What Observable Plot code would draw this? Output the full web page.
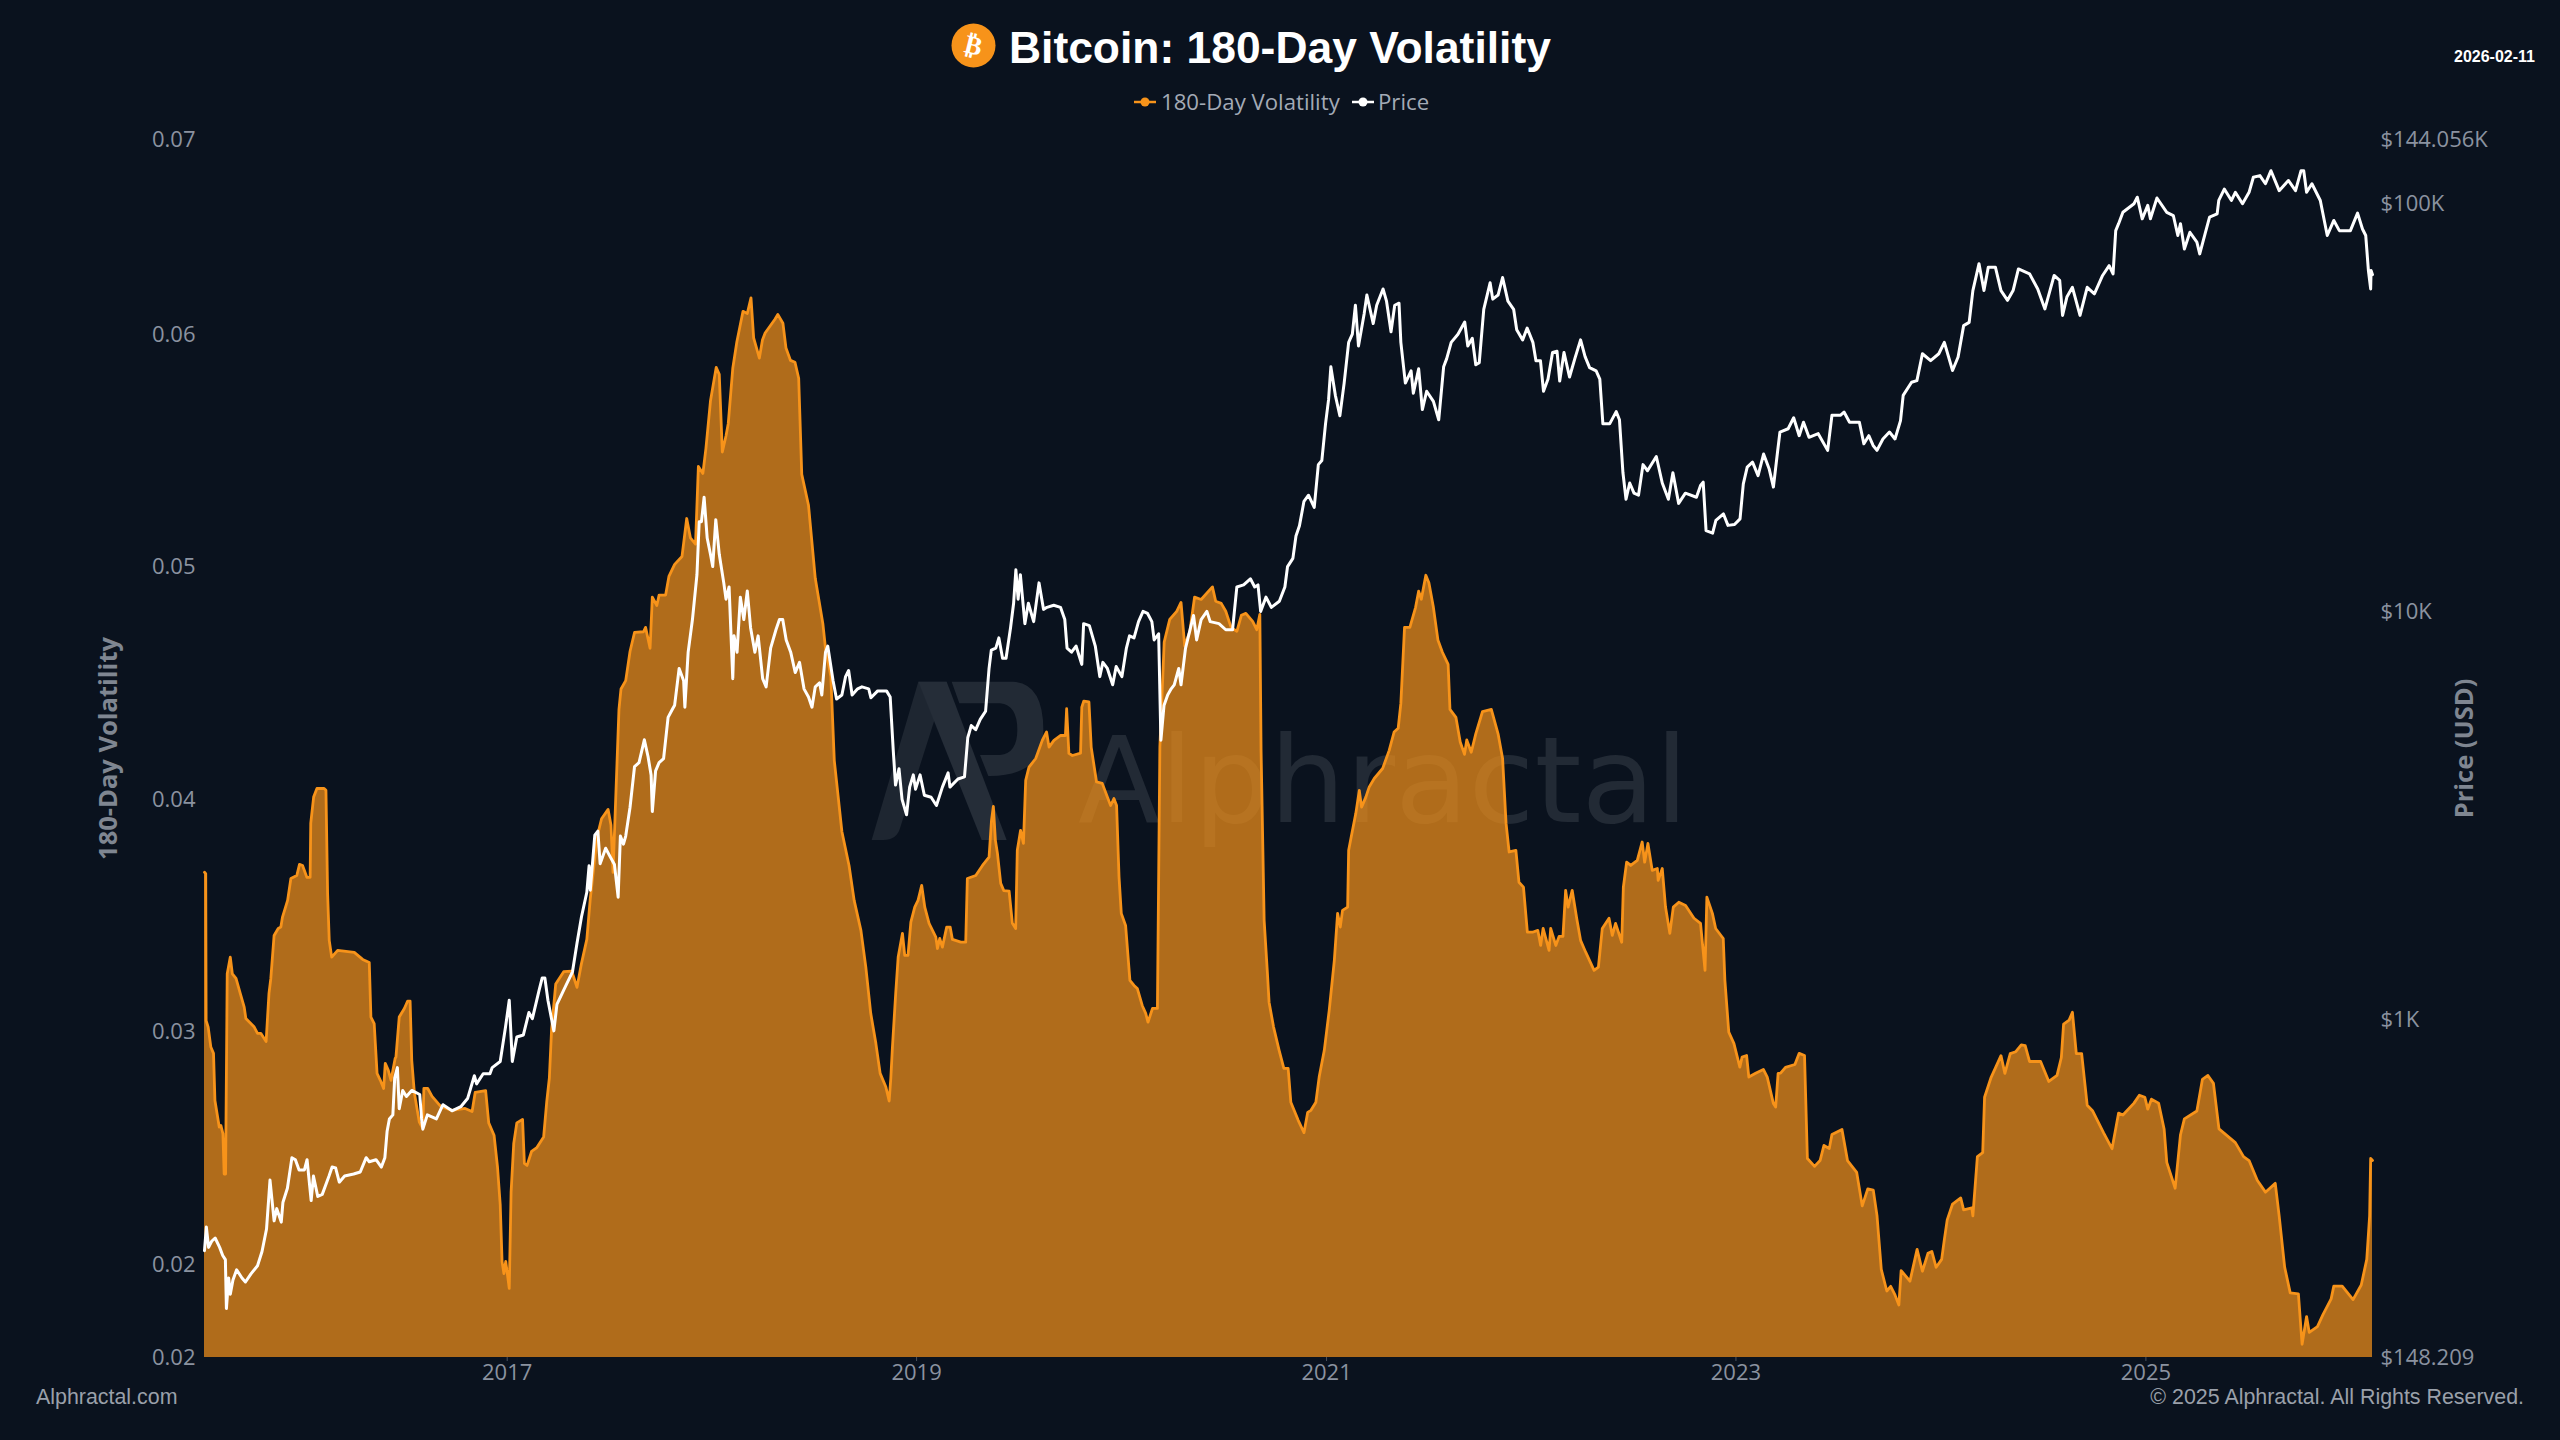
<!DOCTYPE html>
<html><head><meta charset="utf-8">
<script src="https://cdn.jsdelivr.net/npm/d3@7"></script>
<script src="https://cdn.jsdelivr.net/npm/@observablehq/plot@0.6"></script>
<style>
html,body{margin:0;padding:0;background:#0a121e;width:2560px;height:1440px;overflow:hidden}
.abs{position:absolute;white-space:nowrap;line-height:1}
#chart{position:absolute;left:0;top:120px;width:2560px;height:1265px}
#chart svg{position:absolute;left:0;top:0;background:transparent}
</style></head><body>
<div id="watermark">
<svg class="abs" style="left:840px;top:640px" width="280" height="240" viewBox="0 0 840 720">
<path fill="#1e2631" d="M95 600 L235 125 L320 125 L180 565 Q170 600 130 600 Z"/>
<path fill="#252d38" d="M235 125 L320 125 L500 600 L425 600 Z"/>
<path fill="#222a35" d="M335 125 H520 Q610 130 610 270 Q610 410 445 408 L420 345 H480 Q532 340 532 270 Q532 195 480 190 H358 Z"/>
</svg>
<div class="abs" style="left:1078px;top:711px;font:400 120px 'DejaVu Sans';color:#222a35">Alphractal</div>
</div>
<div id="chart"></div>
<svg class="abs" style="left:951px;top:23px" width="45" height="45" viewBox="0 0 45 45">
<circle cx="22.5" cy="22.5" r="22" fill="#f7931a"/>
<text x="22.5" y="31" text-anchor="middle" font-family="'DejaVu Sans'" font-weight="700" font-size="26" fill="#fff" transform="rotate(14 22.5 22.5)">₿</text>
</svg>
<div class="abs" id="title" style="left:1009px;top:22.5px;font:700 44.4px 'Liberation Sans';color:#fff">Bitcoin: 180-Day Volatility</div>
<svg class="abs" style="left:1133px;top:94px" width="24" height="16"><line x1="1" x2="23" y1="8" y2="8" stroke="#f7931a" stroke-width="2.5"/><circle cx="12" cy="8" r="4.5" fill="#f7931a"/></svg>
<div class="abs" style="left:1161px;top:86px;font:400 22.2px 'Open Sans';color:#a3aab6">180-Day Volatility</div>
<svg class="abs" style="left:1351px;top:94px" width="24" height="16"><line x1="1" x2="23" y1="8" y2="8" stroke="#fff" stroke-width="2.5"/><circle cx="12" cy="8" r="4.5" fill="#fff"/></svg>
<div class="abs" style="left:1378px;top:86px;font:400 22.2px 'Open Sans';color:#a3aab6">Price</div>
<div class="abs" style="left:2454px;top:48px;font:700 16px 'Liberation Sans';color:#fff">2026-02-11</div>
<div class="abs" style="left:36px;top:1385px;font:400 21.4px 'Liberation Sans';color:#9aa0aa">Alphractal.com</div>
<div class="abs" style="right:36px;top:1385px;font:400 21.4px 'Liberation Sans';color:#9aa0aa">© 2025 Alphractal. All Rights Reserved.</div>
<script>
const yearTicks = [2017, 2019, 2021, 2023, 2025];
const volTicks = [0.01602, 0.02, 0.03, 0.04, 0.05, 0.06, 0.0684];
const priceTicks = [148.209, 1000, 10000, 100000, 144056];
const timeSpan = [2015.524, 2026.107];

// [decimal year, 180-day volatility]
const volReadings = [
[2015.524,.03689],[2015.53,.03683],[2015.532,.0305],[2015.542,.03023],[2015.555,.02937],[2015.568,.0291],[2015.575,.02707],[2015.596,.02593],[2015.604,.0260],[2015.614,.02565],[2015.62,.02391],[2015.627,.02391],[2015.635,.03252],[2015.65,.03324],[2015.66,.03252],[2015.678,.03232],[2015.699,.03167],[2015.718,.03109],[2015.726,.0306],[2015.767,.03023],[2015.783,.02996],[2015.799,.02996],[2015.825,.02961],[2015.839,.03168],[2015.848,.03232],[2015.864,.03417],[2015.884,.03447],[2015.897,.03453],[2015.905,.03496],[2015.93,.03568],[2015.946,.03662],[2015.975,.03675],[2015.988,.03723],[2016.003,.03718],[2016.024,.03667],[2016.04,.03667],[2016.043,.0390],[2016.057,.04012],[2016.073,.04049],[2016.108,.04049],[2016.117,.04041],[2016.125,.03598],[2016.133,.03396],[2016.145,.03324],[2016.174,.03353],[2016.255,.03344],[2016.296,.03314],[2016.328,.03301],[2016.336,.03066],[2016.352,.03038],[2016.366,.02824],[2016.382,.02794],[2016.398,.02759],[2016.406,.02867],[2016.421,.02837],[2016.434,.02794],[2016.454,.02888],[2016.458,.02894],[2016.474,.03066],[2016.499,.03103],[2016.515,.03135],[2016.527,.03135],[2016.535,.0288],[2016.548,.02738],[2016.572,.02614],[2016.589,.02587],[2016.594,.02759],[2016.613,.02759],[2016.634,.02725],[2016.676,.02682],[2016.731,.02665],[2016.795,.02673],[2016.829,.0266],[2016.844,.02742],[2016.895,.0275],[2016.91,.02611],[2016.936,.02558],[2016.953,.02419],[2016.966,.0226],[2016.975,.02015],[2016.984,.01963],[2016.993,.02015],[2017.01,.01899],[2017.019,.02312],[2017.032,.02523],[2017.047,.02611],[2017.075,.02626],[2017.084,.02437],[2017.097,.02428],[2017.119,.02488],[2017.145,.02505],[2017.178,.0255],[2017.193,.027],[2017.206,.02804],[2017.217,.03015],[2017.237,.03208],[2017.276,.03261],[2017.315,.03264],[2017.341,.03194],[2017.363,.03297],[2017.389,.034],[2017.406,.03576],[2017.439,.0384],[2017.461,.03919],[2017.493,.03959],[2017.507,.03892],[2017.517,.03688],[2017.546,.04389],[2017.556,.04477],[2017.579,.04513],[2017.6,.04638],[2017.622,.0472],[2017.666,.04723],[2017.676,.04742],[2017.698,.04652],[2017.709,.04872],[2017.731,.04836],[2017.742,.04881],[2017.774,.04881],[2017.79,.04961],[2017.818,.05013],[2017.854,.05047],[2017.877,.0521],[2017.895,.05127],[2017.92,.051],[2017.934,.05434],[2017.956,.05404],[2017.971,.05513],[2017.993,.05715],[2018.021,.0586],[2018.036,.0583],[2018.051,.05496],[2018.069,.05566],[2018.08,.05619],[2018.102,.05856],[2018.122,.0597],[2018.152,.06101],[2018.173,.06092],[2018.191,.06159],[2018.204,.05987],[2018.232,.059],[2018.247,.05978],[2018.26,.06008],[2018.308,.06067],[2018.322,.06088],[2018.347,.0605],[2018.362,.05943],[2018.384,.0589],[2018.406,.05882],[2018.424,.05813],[2018.439,.054],[2018.472,.05267],[2018.505,.04953],[2018.542,.04759],[2018.555,.04652],[2018.581,.04532],[2018.598,.04169],[2018.614,.04038],[2018.635,.03864],[2018.67,.03718],[2018.695,.03568],[2018.728,.03439],[2018.752,.03281],[2018.776,.03082],[2018.801,.02953],[2018.822,.02824],[2018.85,.02765],[2018.866,.02705],[2018.874,.02802],[2018.882,.02937],[2018.898,.03168],[2018.91,.03324],[2018.931,.03426],[2018.942,.03331],[2018.958,.03331],[2018.972,.03474],[2018.991,.03539],[2019.007,.03568],[2019.025,.03632],[2019.04,.03539],[2019.061,.03469],[2019.094,.0341],[2019.102,.03361],[2019.113,.03404],[2019.126,.03367],[2019.147,.03453],[2019.164,.03453],[2019.175,.034],[2019.216,.03388],[2019.24,.03388],[2019.248,.03662],[2019.289,.03675],[2019.322,.03718],[2019.354,.03754],[2019.366,.03912],[2019.375,.03972],[2019.385,.03826],[2019.395,.0377],[2019.411,.03641],[2019.426,.0361],[2019.452,.03608],[2019.468,.03469],[2019.484,.03447],[2019.492,.03783],[2019.508,.03869],[2019.522,.03813],[2019.533,.04084],[2019.549,.04141],[2019.582,.04178],[2019.614,.04256],[2019.635,.04292],[2019.647,.04227],[2019.671,.04256],[2019.704,.04277],[2019.727,.04277],[2019.733,.04392],[2019.744,.042],[2019.761,.04191],[2019.801,.04201],[2019.807,.04399],[2019.817,.04425],[2019.842,.04421],[2019.853,.04227],[2019.879,.04077],[2019.907,.04071],[2019.932,.04012],[2019.948,.03976],[2019.964,.04006],[2019.977,.03976],[2019.989,.03668],[2020.0,.03512],[2020.021,.0346],[2020.042,.03224],[2020.062,.03202],[2020.078,.03189],[2020.102,.03116],[2020.119,.03082],[2020.13,.03044],[2020.152,.03103],[2020.176,.03103],[2020.188,.04227],[2020.209,.04679],[2020.236,.04776],[2020.27,.04811],[2020.291,.04849],[2020.309,.04662],[2020.334,.04725],[2020.357,.04872],[2020.389,.04862],[2020.444,.04916],[2020.46,.04854],[2020.487,.04845],[2020.509,.04811],[2020.535,.04742],[2020.563,.04725],[2020.585,.04794],[2020.607,.04802],[2020.64,.04768],[2020.66,.04732],[2020.675,.04798],[2020.681,.04213],[2020.696,.03482],[2020.712,.03254],[2020.72,.0313],[2020.742,.03023],[2020.769,.02923],[2020.792,.02845],[2020.813,.02845],[2020.826,.027],[2020.862,.02622],[2020.89,.02569],[2020.908,.02656],[2020.924,.02665],[2020.948,.027],[2020.964,.02808],[2020.989,.02923],[2021.013,.03095],[2021.038,.0331],[2021.054,.03512],[2021.067,.03453],[2021.078,.03525],[2021.103,.03539],[2021.108,.03783],[2021.119,.03834],[2021.143,.03942],[2021.16,.04041],[2021.171,.03969],[2021.192,.04012],[2021.208,.04055],[2021.233,.04092],[2021.274,.04135],[2021.306,.04213],[2021.33,.04292],[2021.35,.04308],[2021.363,.04415],[2021.381,.04742],[2021.407,.04742],[2021.435,.04828],[2021.45,.04898],[2021.463,.04863],[2021.485,.04966],[2021.5,.04934],[2021.522,.04828],[2021.544,.04688],[2021.566,.04635],[2021.594,.04583],[2021.603,.04389],[2021.632,.04355],[2021.653,.04249],[2021.674,.04196],[2021.685,.04258],[2021.707,.04205],[2021.729,.04284],[2021.762,.0438],[2021.805,.04389],[2021.838,.04284],[2021.86,.04178],[2021.877,.03899],[2021.892,.03776],[2021.925,.03783],[2021.94,.03646],[2021.962,.03625],[2021.981,.03431],[2022.006,.03431],[2022.032,.03439],[2022.046,.03374],[2022.058,.03447],[2022.087,.03353],[2022.095,.03447],[2022.12,.03374],[2022.136,.03413],[2022.155,.03413],[2022.168,.03611],[2022.18,.03539],[2022.2,.03611],[2022.222,.03491],[2022.241,.03396],[2022.266,.03345],[2022.307,.03267],[2022.328,.03281],[2022.347,.03447],[2022.38,.03491],[2022.396,.03417],[2022.412,.03469],[2022.442,.03388],[2022.45,.03625],[2022.466,.03732],[2022.486,.03718],[2022.518,.0374],[2022.542,.03819],[2022.554,.03732],[2022.57,.03813],[2022.591,.03697],[2022.616,.03705],[2022.62,.03654],[2022.64,.03705],[2022.656,.03539],[2022.677,.03426],[2022.694,.03539],[2022.721,.0356],[2022.754,.03546],[2022.795,.03491],[2022.827,.03469],[2022.849,.03267],[2022.858,.03582],[2022.885,.03512],[2022.901,.03447],[2022.938,.03404],[2022.946,.03224],[2022.965,.03001],[2022.99,.02953],[2023.019,.02851],[2023.03,.02894],[2023.052,.02901],[2023.063,.02808],[2023.096,.02824],[2023.134,.02841],[2023.153,.02808],[2023.183,.02694],[2023.194,.02679],[2023.206,.02824],[2023.218,.02825],[2023.242,.0285],[2023.288,.02862],[2023.309,.0291],[2023.335,.02901],[2023.349,.02458],[2023.384,.02424],[2023.411,.02449],[2023.43,.02514],[2023.456,.02501],[2023.469,.02561],[2023.518,.02583],[2023.545,.02449],[2023.59,.02398],[2023.617,.02254],[2023.644,.02327],[2023.671,.02322],[2023.689,.02213],[2023.71,.01981],[2023.737,.01888],[2023.756,.01908],[2023.777,.01871],[2023.796,.01828],[2023.807,.01976],[2023.85,.0193],[2023.885,.02067],[2023.911,.01973],[2023.938,.0205],[2023.957,.02058],[2023.978,.0199],[2024.005,.02024],[2024.018,.02109],[2024.032,.02194],[2024.058,.02262],[2024.098,.02288],[2024.112,.02237],[2024.152,.02245],[2024.157,.02211],[2024.179,.02466],[2024.205,.02483],[2024.214,.02721],[2024.246,.02807],[2024.294,.029],[2024.313,.02824],[2024.339,.02909],[2024.366,.02917],[2024.393,.02946],[2024.412,.02943],[2024.433,.02875],[2024.487,.02875],[2024.527,.02789],[2024.567,.02815],[2024.588,.02892],[2024.599,.03036],[2024.626,.03053],[2024.642,.03087],[2024.661,.02909],[2024.687,.02909],[2024.714,.02687],[2024.741,.02662],[2024.794,.02568],[2024.835,.025],[2024.867,.02653],[2024.888,.02645],[2024.942,.02696],[2024.968,.0273],[2024.995,.02721],[2025.009,.0267],[2025.027,.02713],[2025.062,.02696],[2025.089,.02585],[2025.102,.02441],[2025.143,.0233],[2025.169,.0256],[2025.188,.02628],[2025.249,.02662],[2025.276,.02798],[2025.303,.02815],[2025.33,.02781],[2025.357,.02585],[2025.437,.02526],[2025.477,.02466],[2025.504,.02449],[2025.544,.02364],[2025.584,.02313],[2025.632,.02351],[2025.651,.02211],[2025.678,.0199],[2025.705,.0188],[2025.745,.01876],[2025.763,.01659],[2025.785,.01778],[2025.798,.0171],[2025.838,.01735],[2025.865,.01786],[2025.905,.01854],[2025.918,.01909],[2025.959,.01909],[2026.012,.01851],[2026.052,.01914],[2026.079,.02024],[2026.093,.02211],[2026.098,.02458],[2026.107,.02449]
];

// [decimal year, log10 of the price in USD]
const priceReadings = [
[2015.524,2.433],[2015.533,2.491],[2015.544,2.441],[2015.559,2.456],[2015.576,2.464],[2015.598,2.441],[2015.613,2.421],[2015.626,2.411],[2015.631,2.291],[2015.642,2.366],[2015.65,2.326],[2015.663,2.361],[2015.681,2.386],[2015.707,2.366],[2015.724,2.356],[2015.751,2.376],[2015.783,2.396],[2015.805,2.431],[2015.827,2.486],[2015.844,2.606],[2015.864,2.506],[2015.877,2.536],[2015.899,2.503],[2015.907,2.551],[2015.929,2.586],[2015.951,2.661],[2015.968,2.656],[2015.986,2.631],[2016.012,2.631],[2016.025,2.656],[2016.045,2.556],[2016.056,2.616],[2016.077,2.566],[2016.099,2.571],[2016.132,2.616],[2016.147,2.638],[2016.164,2.636],[2016.182,2.601],[2016.208,2.616],[2016.252,2.621],[2016.284,2.626],[2016.313,2.661],[2016.328,2.651],[2016.361,2.656],[2016.387,2.638],[2016.404,2.661],[2016.415,2.726],[2016.426,2.756],[2016.443,2.766],[2016.452,2.857],[2016.465,2.882],[2016.474,2.781],[2016.491,2.826],[2016.509,2.811],[2016.535,2.826],[2016.574,2.816],[2016.583,2.756],[2016.589,2.731],[2016.611,2.766],[2016.655,2.756],[2016.687,2.791],[2016.731,2.776],[2016.774,2.786],[2016.807,2.806],[2016.84,2.862],[2016.851,2.842],[2016.883,2.867],[2016.916,2.867],[2016.927,2.882],[2016.966,2.897],[2016.992,2.982],[2017.01,3.047],[2017.025,2.897],[2017.047,2.957],[2017.079,2.962],[2017.106,3.017],[2017.123,3.002],[2017.156,3.072],[2017.171,3.102],[2017.184,3.102],[2017.199,3.047],[2017.228,2.972],[2017.243,3.037],[2017.276,3.072],[2017.319,3.117],[2017.341,3.187],[2017.363,3.252],[2017.389,3.312],[2017.4,3.377],[2017.406,3.317],[2017.428,3.452],[2017.443,3.462],[2017.454,3.382],
[2017.481,3.42],[2017.502,3.4],[2017.524,3.38],[2017.542,3.3],[2017.553,3.45],[2017.568,3.43],[2017.579,3.45],[2017.6,3.52],[2017.622,3.62],[2017.644,3.63],[2017.67,3.686],[2017.688,3.645],[2017.703,3.6],[2017.709,3.51],[2017.725,3.61],[2017.742,3.63],[2017.764,3.64],[2017.786,3.741],[2017.807,3.761],[2017.818,3.771],[2017.84,3.861],[2017.862,3.831],[2017.868,3.766],[2017.884,3.901],[2017.905,3.981],[2017.927,4.091],[2017.938,4.221],[2017.949,4.221],[2017.962,4.281],[2017.977,4.181],[2017.993,4.141],[2018.004,4.111],[2018.019,4.226],[2018.036,4.141],[2018.058,4.071],[2018.069,4.031],[2018.084,4.061],[2018.102,3.836],[2018.108,3.941],[2018.123,3.901],[2018.139,4.036],[2018.156,3.981],[2018.173,4.051],[2018.189,3.961],[2018.21,3.901],[2018.226,3.941],[2018.248,3.836],[2018.265,3.816],[2018.287,3.911],[2018.313,3.956],[2018.33,3.981],[2018.346,3.981],[2018.363,3.931],[2018.385,3.901],[2018.407,3.851],[2018.428,3.876],[2018.45,3.811],[2018.472,3.791],[2018.489,3.766],[2018.505,3.816],[2018.526,3.826],[2018.537,3.796],[2018.555,3.901],[2018.566,3.916],[2018.592,3.831],[2018.609,3.786],[2018.635,3.796],[2018.653,3.841],[2018.668,3.856],[2018.685,3.796],[2018.712,3.811],[2018.733,3.816],[2018.766,3.811],[2018.777,3.789],[2018.81,3.806],[2018.853,3.806],[2018.871,3.791],[2018.886,3.66],[2018.897,3.575],[2018.914,3.615],[2018.929,3.54],[2018.951,3.502],[2018.966,3.57],[2018.984,3.6],[2018.995,3.565],[2019.017,3.6],[2019.038,3.55],[2019.071,3.545],[2019.097,3.525],[2019.126,3.57],[2019.154,3.605],[2019.163,3.57],[2019.202,3.59],[2019.234,3.595],[2019.25,3.691],[2019.267,3.721],[2019.289,3.711],[2019.311,3.736],[2019.337,3.756],[2019.354,3.861],[2019.365,3.906],[2019.387,3.911],[2019.402,3.936],[2019.42,3.886],[2019.437,3.886],[2019.459,3.961],[2019.474,4.021],[2019.485,4.103],[2019.496,4.031],[2019.507,4.091],[2019.529,3.971],[2019.546,4.021],[2019.572,3.976],[2019.598,4.071],[2019.62,4.006],[2019.637,4.011],[2019.67,4.016],[2019.703,4.011],[2019.724,3.981],[2019.735,3.911],[2019.757,3.901],[2019.779,3.916],[2019.807,3.871],[2019.816,3.971],[2019.844,3.966],[2019.873,3.916],[2019.895,3.841],[2019.91,3.876],[2019.932,3.861],[2019.958,3.821],[2019.975,3.866],[2020.003,3.841],[2020.025,3.911],[2020.04,3.941],[2020.062,3.936],[2020.084,3.976],[2020.106,4.001],[2020.128,3.996],[2020.149,3.976],[2020.16,3.931],[2020.182,3.946],[2020.193,3.685],[2020.208,3.77],[2020.226,3.796],[2020.243,3.811],[2020.258,3.821],[2020.28,3.861],[2020.291,3.821],[2020.313,3.911],[2020.335,3.956],[2020.352,3.991],[2020.367,3.931],[2020.389,3.981],[2020.417,4.001],[2020.433,3.976],[2020.476,3.971],[2020.509,3.956],[2020.542,3.956],[2020.563,4.061],[2020.596,4.066],[2020.629,4.081],[2020.65,4.061],[2020.666,4.066],[2020.679,4.001],
[2020.705,4.036],[2020.731,4.011],[2020.77,4.026],[2020.797,4.061],[2020.81,4.111],[2020.836,4.131],[2020.851,4.186],[2020.868,4.211],[2020.89,4.271],[2020.912,4.286],[2020.94,4.256],[2020.96,4.361],[2020.977,4.371],[2020.995,4.461],[2021.01,4.521],[2021.021,4.601],[2021.043,4.531],[2021.065,4.481],[2021.086,4.561],[2021.108,4.661],[2021.126,4.681],[2021.141,4.752],[2021.156,4.652],[2021.184,4.732],[2021.197,4.777],[2021.228,4.707],[2021.245,4.752],[2021.276,4.792],[2021.293,4.762],[2021.315,4.687],[2021.333,4.752],[2021.354,4.757],[2021.363,4.661],[2021.385,4.561],[2021.413,4.591],[2021.424,4.536],[2021.45,4.596],[2021.468,4.496],[2021.489,4.541],[2021.522,4.516],[2021.548,4.471],[2021.572,4.601],[2021.587,4.621],[2021.609,4.661],[2021.642,4.681],[2021.675,4.711],[2021.69,4.652],[2021.712,4.671],[2021.729,4.606],[2021.746,4.611],[2021.768,4.742],[2021.799,4.807],[2021.812,4.767],[2021.838,4.777],[2021.86,4.82],[2021.886,4.762],[2021.914,4.742],[2021.929,4.692],[2021.958,4.667],[2021.98,4.696],[2022.008,4.661],[2022.023,4.616],[2022.045,4.616],[2022.06,4.541],[2022.082,4.571],[2022.104,4.636],[2022.126,4.639],[2022.139,4.566],[2022.16,4.636],[2022.187,4.576],[2022.213,4.621],[2022.241,4.667],[2022.263,4.626],[2022.285,4.599],[2022.317,4.591],[2022.335,4.571],[2022.35,4.461],[2022.383,4.461],[2022.415,4.491],[2022.431,4.471],[2022.448,4.341],[2022.463,4.276],[2022.481,4.316],[2022.502,4.291],[2022.524,4.286],[2022.546,4.361],[2022.568,4.346],[2022.611,4.381],[2022.64,4.316],[2022.67,4.276],[2022.692,4.341],[2022.72,4.266],[2022.753,4.291],[2022.807,4.281],
[2022.827,4.31],[2022.84,4.318],[2022.854,4.199],[2022.886,4.193],[2022.902,4.224],[2022.939,4.24],[2022.961,4.212],[2022.993,4.214],[2023.02,4.228],[2023.036,4.314],[2023.055,4.355],[2023.081,4.367],[2023.108,4.334],[2023.135,4.387],[2023.162,4.351],[2023.183,4.306],[2023.202,4.387],[2023.215,4.441],[2023.255,4.449],[2023.282,4.476],[2023.309,4.432],[2023.33,4.465],[2023.357,4.428],[2023.402,4.437],[2023.448,4.396],[2023.469,4.482],[2023.51,4.482],[2023.528,4.49],[2023.555,4.465],[2023.603,4.465],[2023.625,4.412],[2023.649,4.432],[2023.67,4.408],[2023.689,4.396],[2023.718,4.424],[2023.75,4.441],[2023.777,4.424],[2023.804,4.469],[2023.817,4.531],[2023.858,4.563],[2023.884,4.567],[2023.911,4.633],[2023.951,4.616],[2023.991,4.633],[2024.018,4.661],[2024.058,4.592],[2024.085,4.625],[2024.112,4.702],[2024.139,4.71],[2024.157,4.788],[2024.187,4.854],[2024.211,4.788],[2024.232,4.845],[2024.267,4.845],[2024.294,4.788],[2024.326,4.764],[2024.353,4.788],[2024.379,4.841],[2024.433,4.829],[2024.473,4.792],[2024.508,4.743],[2024.553,4.825],[2024.58,4.813],[2024.594,4.727],[2024.615,4.772],[2024.642,4.796],[2024.679,4.727],[2024.714,4.796],[2024.749,4.78],[2024.789,4.825],[2024.821,4.849],[2024.84,4.829],[2024.853,4.935],[2024.867,4.952],[2024.888,4.98],[2024.942,5.001],[2024.958,5.017],[2024.982,4.964],[2025.009,4.997],[2025.022,4.964],[2025.054,5.015],[2025.102,4.98],[2025.134,4.972],[2025.156,4.923],[2025.169,4.952],[2025.188,4.89],[2025.215,4.931],[2025.249,4.907],[2025.263,4.878],[2025.289,4.927],[2025.311,4.968],[2025.348,4.976],[2025.356,5.009],[2025.383,5.037],[2025.418,5.009],[2025.437,5.029],[2025.472,5.001],[2025.504,5.029],[2025.525,5.066],[2025.557,5.07],[2025.584,5.05],[2025.611,5.082],[2025.651,5.033],[2025.696,5.058],[2025.731,5.033],[2025.758,5.082],[2025.771,5.082],[2025.785,5.029],[2025.811,5.05],[2025.852,5.009],[2025.886,4.923],[2025.918,4.96],[2025.945,4.935],[2025.999,4.935],[2026.034,4.978],[2026.058,4.939],[2026.074,4.923],[2026.087,4.837],[2026.098,4.792],[2026.1,4.837],[2026.107,4.827]
];

const toDate = y => {
  const whole = Math.floor(y);
  const a = Date.UTC(whole, 0, 1), b = Date.UTC(whole + 1, 0, 1);
  return new Date(a + (y - whole) * (b - a));
};
const volData = volReadings.map(([y, v]) => ({date: toDate(y), vol: v}));
const priceData = priceReadings.map(([y, l]) => ({date: toDate(y), price: Math.pow(10, l)}));
const xDomain = timeSpan.map(toDate);
const xTicks = yearTicks.map(y => new Date(Date.UTC(y, 0, 1)));

const ORANGE = "#f7931a", TICK = "#8b92a0", AXIS_TITLE = "#7f8691";
const frame = {
  width: 2560, height: 1265,
  marginTop: 19, marginBottom: 28, marginLeft: 204, marginRight: 188,
  style: {background: "transparent", fontFamily: "'Open Sans'"}
};

const volPlot = Plot.plot({
  ...frame,
  x: {type: "time", domain: xDomain},
  y: {domain: [volTicks[0], volTicks[volTicks.length - 1]]},
  marks: [
    Plot.areaY(volData, {x: "date", y1: volTicks[0], y2: "vol", fill: ORANGE, fillOpacity: 0.7}),
    Plot.lineY(volData, {x: "date", y: "vol", stroke: ORANGE, strokeWidth: 2.8}),
    Plot.axisY({ticks: volTicks, tickFormat: d => d.toFixed(2), tickSize: 0, tickPadding: 9, fontSize: 22, color: TICK, label: null}),
    Plot.axisX({ticks: xTicks, tickFormat: d3.utcFormat("%Y"), tickSize: 4, tickPadding: 3, fontSize: 22, color: TICK, label: null, strokeOpacity: 0.5}),
    Plot.text(["180-Day Volatility"], {frameAnchor: "left", textAnchor: "middle", rotate: -90, dx: -96, fontSize: 25.5, fontWeight: 700, fill: AXIS_TITLE})
  ]
});

const pricePlot = Plot.plot({
  ...frame,
  x: {type: "time", domain: xDomain, axis: null},
  y: {type: "log", domain: [priceTicks[0], priceTicks[priceTicks.length - 1]]},
  marks: [
    Plot.lineY(priceData, {x: "date", y: "price", stroke: "#ffffff", strokeWidth: 3}),
    Plot.axisY({anchor: "right", ticks: priceTicks,
      tickFormat: d => d < 1000 ? `$${d}` : `$${+(d / 1000).toFixed(3)}K`,
      tickSize: 0, tickPadding: 8, fontSize: 22, color: TICK, label: null}),
    Plot.text(["Price (USD)"], {frameAnchor: "right", textAnchor: "middle", rotate: -90, dx: 92, fontSize: 25.5, fontWeight: 700, fill: AXIS_TITLE})
  ]
});

document.getElementById("chart").append(volPlot, pricePlot);
</script>
</body></html>
